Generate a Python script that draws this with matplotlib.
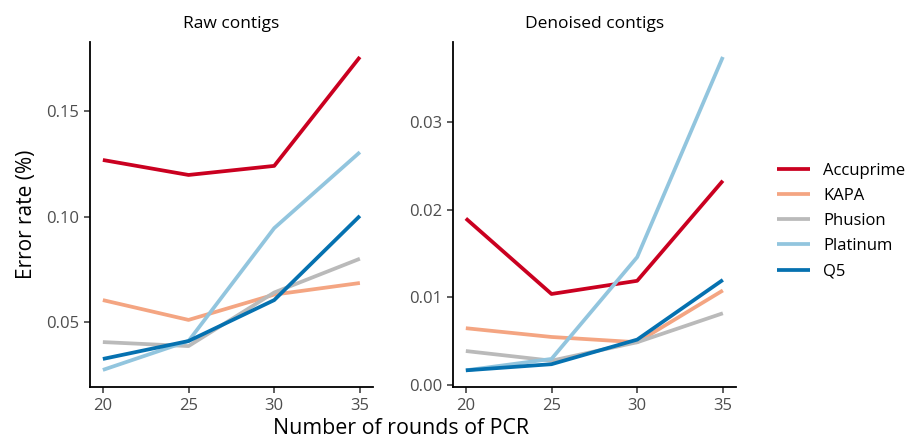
import matplotlib.pyplot as plt

plt.rcParams['font.family'] = ['Open Sans', 'DejaVu Sans']

# Data
rounds = [20, 25, 30, 35]
polymerases = ['Accuprime', 'KAPA', 'Phusion', 'Platinum', 'Q5']
colors = ['#CA0020', '#F4A582', '#BABABA', '#92C5DE', '#0571B0']

raw_accuprime = [0.1268, 0.1197, 0.1240, 0.1756]
raw_kapa = [0.0604, 0.0510, 0.0630, 0.0685]
raw_phusion = [0.0405, 0.0386, 0.0640, 0.0800]
raw_platinum = [0.0273, 0.0410, 0.0945, 0.1305]
raw_q5 = [0.0325, 0.0410, 0.0604, 0.1003]

den_accuprime = [0.0190, 0.0104, 0.0119, 0.0233]
den_kapa = [0.0065, 0.0055, 0.0049, 0.0108]
den_phusion = [0.0039, 0.0028, 0.0049, 0.0082]
den_platinum = [0.0017, 0.0030, 0.0146, 0.0374]
den_q5 = [0.0017, 0.0024, 0.0052, 0.0120]

raw = [raw_accuprime, raw_kapa, raw_phusion, raw_platinum, raw_q5]
den = [den_accuprime, den_kapa, den_phusion, den_platinum, den_q5]

fig = plt.figure(figsize=(9.12, 4.42), dpi=100)
ax1 = fig.add_axes([0.0987, 0.1244, 0.310, 0.7805])
ax2 = fig.add_axes([0.4967, 0.1244, 0.310, 0.7805])


def style_axis(ax, yticks, ylim, title):
    for s in ['top', 'right']:
        ax.spines[s].set_visible(False)
    for s in ['left', 'bottom']:
        ax.spines[s].set_linewidth(1.3)
        ax.spines[s].set_color('black')
    ax.set_xlim(19.25, 35.75)
    ax.set_xticks(rounds)
    ax.set_ylim(*ylim)
    ax.set_yticks(yticks)
    ax.set_yticklabels([f'{t:.2f}' for t in yticks])
    ax.tick_params(length=4, width=1.1, color='#333333', labelsize=12,
                   labelcolor='#4D4D4D', pad=4)
    ax.set_title(title, fontsize=12.5, pad=10)


for vals, c, name in zip(raw, colors, polymerases):
    ax1.plot(rounds, vals, color=c, lw=2.7, label=name, solid_capstyle='butt')
for vals, c in zip(den, colors):
    ax2.plot(rounds, vals, color=c, lw=2.7, solid_capstyle='butt')

style_axis(ax1, [0.05, 0.10, 0.15], (0.0192, 0.1827), 'Raw contigs')
style_axis(ax2, [0.00, 0.01, 0.02, 0.03], (-0.0002, 0.0391), 'Denoised contigs')

ax1.set_ylabel('Error rate (%)', fontsize=15, labelpad=6)
fig.text(0.44, 0.03, 'Number of rounds of PCR', fontsize=15.4, ha='center', va='center')

handles, labels = ax1.get_legend_handles_labels()
fig.legend(handles, labels, loc='center left', bbox_to_anchor=(0.835, 0.50),
           frameon=False, fontsize=12, handlelength=2.0, handletextpad=0.8,
           labelspacing=0.55)

plt.savefig('out.png', dpi=100)
